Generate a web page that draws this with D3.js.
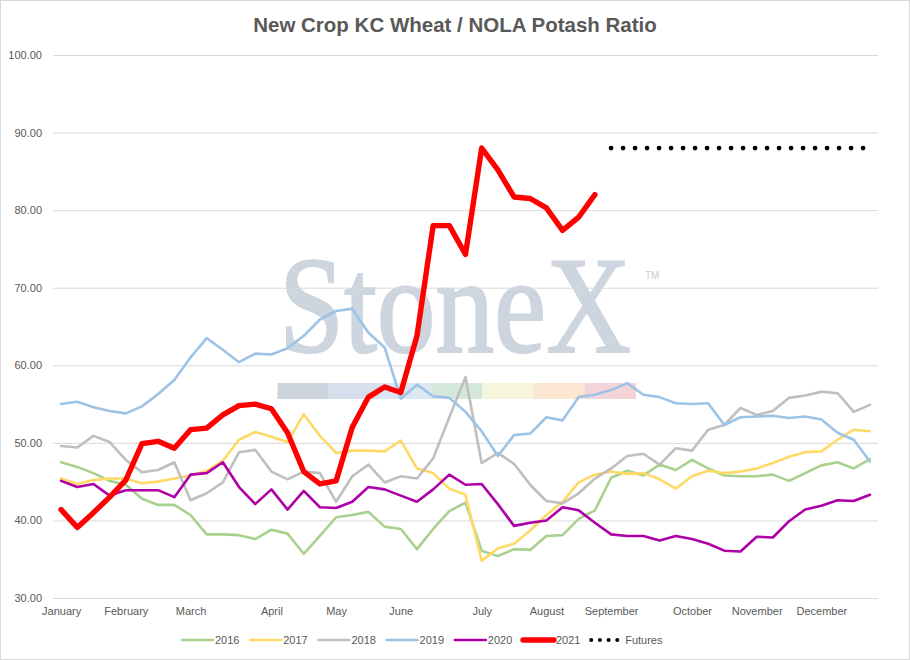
<!DOCTYPE html>
<html>
<head>
<meta charset="utf-8">
<script src="https://cdn.jsdelivr.net/npm/d3@7/dist/d3.min.js"></script>
<style>
  body { margin: 0; background: #fff; }
  svg { font-family: "Liberation Sans", Arial, sans-serif; }
</style>
</head>
<body>
<div id="chart"></div>
<script>
// weekly points, Jan -> Dec
const weekCount = 51;
const monthLabels = ['January', 'February', 'March', 'April', 'May', 'June', 'July', 'August', 'September', 'October', 'November', 'December'];
const monthWeeks = [0, 4, 8, 13, 17, 21, 26, 30, 34, 39, 43, 47];
const yTicks = [30, 40, 50, 60, 70, 80, 90, 100];

const y2016 = [47.5, 46.9, 46.1, 45.1, 44.6, 42.8, 42.0, 42.0, 40.7, 38.2,
    38.2, 38.1, 37.6, 38.8, 38.3, 35.7, 38.0, 40.4, 40.7, 41.1,
    39.2, 38.9, 36.3, 38.9, 41.2, 42.3, 36.1, 35.4, 36.3, 36.2,
    38.0, 38.1, 40.2, 41.3, 45.5, 46.4, 45.8, 47.2, 46.5, 47.8,
    46.7, 45.8, 45.7, 45.7, 45.9, 45.1, 46.1, 47.1, 47.5, 46.7, 47.9];
const y2017 = [45.4, 44.7, 45.2, 45.4, 45.4, 44.8, 45.0, 45.4, 45.8, 46.4,
    47.7, 50.4, 51.4, 50.8, 50.1, 53.7, 50.9, 48.7, 49.0, 49.0,
    48.9, 50.3, 46.7, 46.1, 44.1, 43.3, 34.8, 36.4, 37.0, 38.7,
    40.7, 42.4, 44.9, 45.9, 46.3, 46.0, 46.1, 45.3, 44.1, 45.7,
    46.4, 46.1, 46.3, 46.7, 47.4, 48.2, 48.8, 48.9, 50.4, 51.7, 51.5];
const y2018 = [49.6, 49.4, 50.9, 50.1, 47.8, 46.2, 46.5, 47.5, 42.6, 43.5,
    44.9, 48.8, 49.1, 46.3, 45.3, 46.3, 46.1, 42.4, 45.7, 47.2,
    44.9, 45.7, 45.4, 48.0, 53.3, 58.5, 47.4, 48.7, 47.3, 44.6,
    42.5, 42.2, 43.5, 45.4, 46.7, 48.3, 48.6, 47.2, 49.3, 49.0,
    51.7, 52.3, 54.5, 53.6, 54.1, 55.8, 56.1, 56.6, 56.4, 54.0, 54.9];
const y2019 = [55.0, 55.3, 54.6, 54.1, 53.8, 54.7, 56.3, 58.1, 61.0, 63.5,
    62.0, 60.4, 61.5, 61.4, 62.2, 63.8, 65.9, 67.0, 67.3, 64.2,
    62.3, 55.7, 57.5, 56.0, 55.8, 54.0, 51.5, 48.3, 51.0, 51.2,
    53.3, 52.9, 55.9, 56.2, 56.8, 57.7, 56.2, 55.9, 55.1, 55.0,
    55.1, 52.3, 53.3, 53.4, 53.5, 53.2, 53.4, 53.0, 51.3, 50.4, 47.6];
const y2020 = [45.1, 44.3, 44.7, 43.2, 43.9, 43.9, 43.9, 43.0, 45.9, 46.1,
    47.5, 44.3, 42.1, 44.0, 41.4, 43.8, 41.7, 41.6, 42.4, 44.3,
    44.0, 43.2, 42.4, 44.0, 45.9, 44.6, 44.7, 42.1, 39.3, 39.7,
    40.0, 41.7, 41.3, 39.7, 38.2, 38.0, 38.0, 37.4, 38.0, 37.6,
    37.0, 36.1, 36.0, 37.9, 37.8, 39.9, 41.4, 41.9, 42.6, 42.5, 43.3];
const y2021 = [41.4, 39.1, 41.0, 43.0, 45.2, 49.9, 50.2, 49.3, 51.7, 51.9,
    53.6, 54.8, 55.0, 54.4, 51.3, 46.3, 44.7, 45.1, 52.0, 55.9,
    57.2, 56.5, 63.8, 78.0, 78.0, 74.3, 88.0, 85.2, 81.7, 81.5,
    80.3, 77.4, 79.1, 82.0];
const futuresStart = 34;
const futures = [88, 88, 88, 88, 88, 88, 88, 88, 88, 88, 88, 88, 88, 88, 88, 88, 88];

const series = [
    {name: '2016', values: y2016, color: '#A9D18E', width: 2.6},
    {name: '2017', values: y2017, color: '#FFD966', width: 2.6},
    {name: '2018', values: y2018, color: '#BFBFBF', width: 2.6},
    {name: '2019', values: y2019, color: '#9DC3E6', width: 2.6},
    {name: '2020', values: y2020, color: '#AE00A6', width: 2.6},
    {name: '2021', values: y2021, color: '#FF0000', width: 5.4}
];

const width = 910, height = 660;
const plot = {left: 53, right: 878, top: 55, bottom: 598};

const svg = d3.select('#chart').append('svg')
    .attr('width', width)
    .attr('height', height);

svg.append('rect')
    .attr('x', 0.5).attr('y', 0.5)
    .attr('width', width - 1).attr('height', height - 1)
    .attr('fill', '#fff')
    .attr('stroke', '#D9D9D9');

const x = d3.scalePoint()
    .domain(d3.range(weekCount))
    .range([plot.left, plot.right])
    .padding(0.5);
const y = d3.scaleLinear()
    .domain([30, 100])
    .range([plot.bottom, plot.top]);

// watermark
const wm = svg.append('g').attr('class', 'watermark');
const bandColors = ['#CDD3DD', '#D5E0EC', '#DBE8F3', '#D5E6DC', '#F6F6DF', '#FAE6D1', '#F3D4D8'];
wm.selectAll('rect')
    .data(bandColors)
    .enter()
    .append('rect')
    .attr('x', (d, i) => 277.5 + i * 51.2)
    .attr('y', 383)
    .attr('width', 51.3)
    .attr('height', 16)
    .attr('fill', d => d);
wm.append('text')
    .attr('transform', 'translate(279,352) scale(0.85,1)')
    .style('font-family', '"Liberation Serif", "DejaVu Serif", serif')
    .style('font-size', '138px')
    .style('fill', '#CDD5DF')
    .style('stroke', '#CDD5DF')
    .style('stroke-width', 2.2)
    .text('StoneX');
wm.append('text')
    .attr('x', 645)
    .attr('y', 279)
    .style('font-size', '10px')
    .style('fill', '#C6CDD8')
    .text('TM');

// gridlines + y labels
svg.append('g')
    .attr('transform', `translate(${plot.left},0)`)
    .call(d3.axisLeft(y)
        .tickValues(yTicks)
        .tickSize(-(plot.right - plot.left))
        .tickPadding(11)
        .tickFormat(d3.format('.2f')))
    .call(g => g.select('.domain').remove())
    .call(g => g.selectAll('.tick line').attr('stroke', '#D9D9D9'))
    .call(g => g.selectAll('.tick text')
        .style('font-size', '11px')
        .style('fill', '#595959'));

// month labels
svg.append('g')
    .attr('transform', `translate(0,${plot.bottom})`)
    .call(d3.axisBottom(x)
        .tickValues(monthWeeks)
        .tickSize(0)
        .tickPadding(9)
        .tickFormat((d, i) => monthLabels[i]))
    .call(g => g.select('.domain').remove())
    .call(g => g.selectAll('.tick text')
        .style('font-size', '11px')
        .style('fill', '#595959'));

const line = d3.line()
    .defined(d => d != null)
    .x((d, i) => x(i))
    .y(d => y(d));

svg.selectAll('.series')
    .data(series)
    .enter()
    .append('path')
    .attr('class', 'series')
    .attr('d', d => line(d.values))
    .attr('fill', 'none')
    .attr('stroke', d => d.color)
    .attr('stroke-width', d => d.width)
    .attr('stroke-linejoin', 'round')
    .attr('stroke-linecap', 'round');

const futuresLine = d3.line()
    .x((d, i) => x(futuresStart + i))
    .y(d => y(d));
svg.append('path')
    .attr('d', futuresLine(futures))
    .attr('fill', 'none')
    .attr('stroke', '#000')
    .attr('stroke-width', 4.8)
    .attr('stroke-linecap', 'round')
    .attr('stroke-dasharray', '0 12');

// title
svg.append('text')
    .attr('x', 455)
    .attr('y', 32)
    .attr('text-anchor', 'middle')
    .style('font-size', '20.5px')
    .style('font-weight', 700)
    .style('fill', '#595959')
    .text('New Crop KC Wheat / NOLA Potash Ratio');

// legend
const legendItems = series.map(s => ({name: s.name, color: s.color, width: s.width}))
    .concat([{name: 'Futures', color: '#000', width: 4, dotted: true}]);
const legend = svg.append('g').attr('transform', 'translate(182,640)');
const item = legend.selectAll('g')
    .data(legendItems)
    .enter()
    .append('g')
    .attr('transform', (d, i) => `translate(${i * 68.2},0)`);
item.append('line')
    .attr('x1', 0)
    .attr('x2', d => d.dotted ? 27 : 31)
    .attr('stroke', d => d.color)
    .attr('stroke-width', d => d.dotted ? 4 : d.width)
    .attr('stroke-linecap', 'round')
    .attr('stroke-dasharray', d => d.dotted ? '0 8.7' : null);
item.append('text')
    .attr('x', d => d.dotted ? 34 : 33)
    .attr('dy', '0.35em')
    .style('font-size', '11px')
    .style('fill', '#595959')
    .text(d => d.name);
</script>
</body>
</html>
